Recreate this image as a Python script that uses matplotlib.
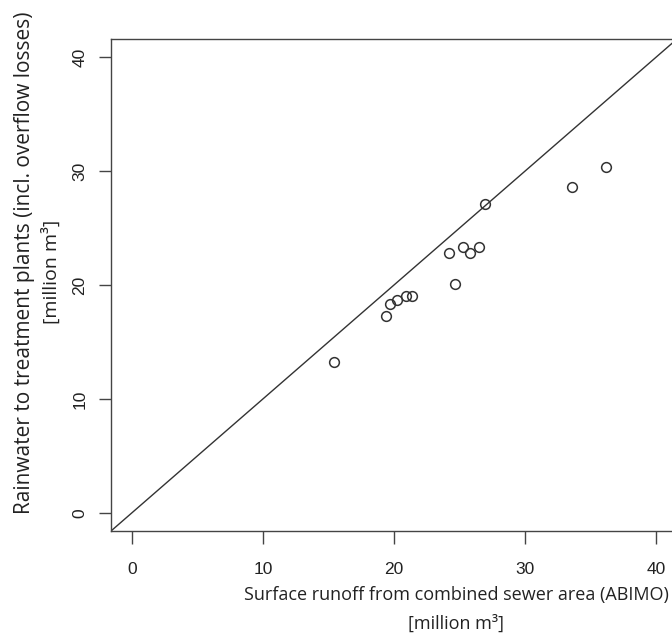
import numpy as np
import matplotlib
matplotlib.use("Agg")
import matplotlib.pyplot as plt

plt.rcParams["font.family"] = ["Liberation Sans", "DejaVu Sans"]

# surface runoff (ABIMO) vs rainwater to treatment plants, million m3
runoff = [15.4, 19.4, 19.7, 20.25, 20.9, 21.4, 24.2, 24.65, 25.25, 25.8, 26.45, 26.95, 33.55, 36.15]
rainwater = [13.2, 17.3, 18.3, 18.7, 19.0, 19.05, 22.85, 20.1, 23.3, 22.8, 23.35, 27.1, 28.6, 30.35]

ticks = [0, 10, 20, 30, 40]
xlabel = ["Surface runoff from combined sewer area (ABIMO)", "[million m³]"]
ylabel = ["Rainwater to treatment plants (incl. overflow losses)", "[million m³]"]

fig = plt.figure(figsize=(6.72, 6.37), dpi=100)
# right part of the box is cut off in the original picture
ax = fig.add_axes([111/672, 1 - 531/637, 566/672, 492/637])

ax.plot(runoff, rainwater, "o", ms=7, mfc="none", mec="#333333", mew=1.1)
ax.plot([-10, 60], [-10, 60], color="#333333", lw=1.0)

ax.set_xlim(-1.6, 41.6)
ax.set_ylim(-1.6, 41.6)
ax.set_xticks(ticks)
ax.set_yticks(ticks)
ax.set_yticklabels([str(t) for t in ticks], rotation=90, va="center")
for s in ax.spines.values():
    s.set_color("#444444")
    s.set_linewidth(1.0)
ax.tick_params(length=9, width=1.0, color="#444444", labelsize=12.5, labelcolor="#222222")
ax.tick_params(axis="x", pad=13)
ax.tick_params(axis="y", pad=8)

fig.text(456/672, 1 - 595/637, xlabel[0], ha="center", va="center",
         family="Open Sans", size=13, color="#222222")
fig.text(456/672, 1 - 624/637, xlabel[1], ha="center", va="center",
         family="Open Sans", size=13, color="#222222")
fig.text(25/672, 1 - 263/637, ylabel[0], ha="center", va="center", rotation=90,
         family="Open Sans", size=15, color="#222222")
fig.text(51/672, 1 - 272/637, ylabel[1], ha="center", va="center", rotation=90,
         family="Open Sans", size=14, color="#222222")

fig.savefig("out.png", dpi=100)
